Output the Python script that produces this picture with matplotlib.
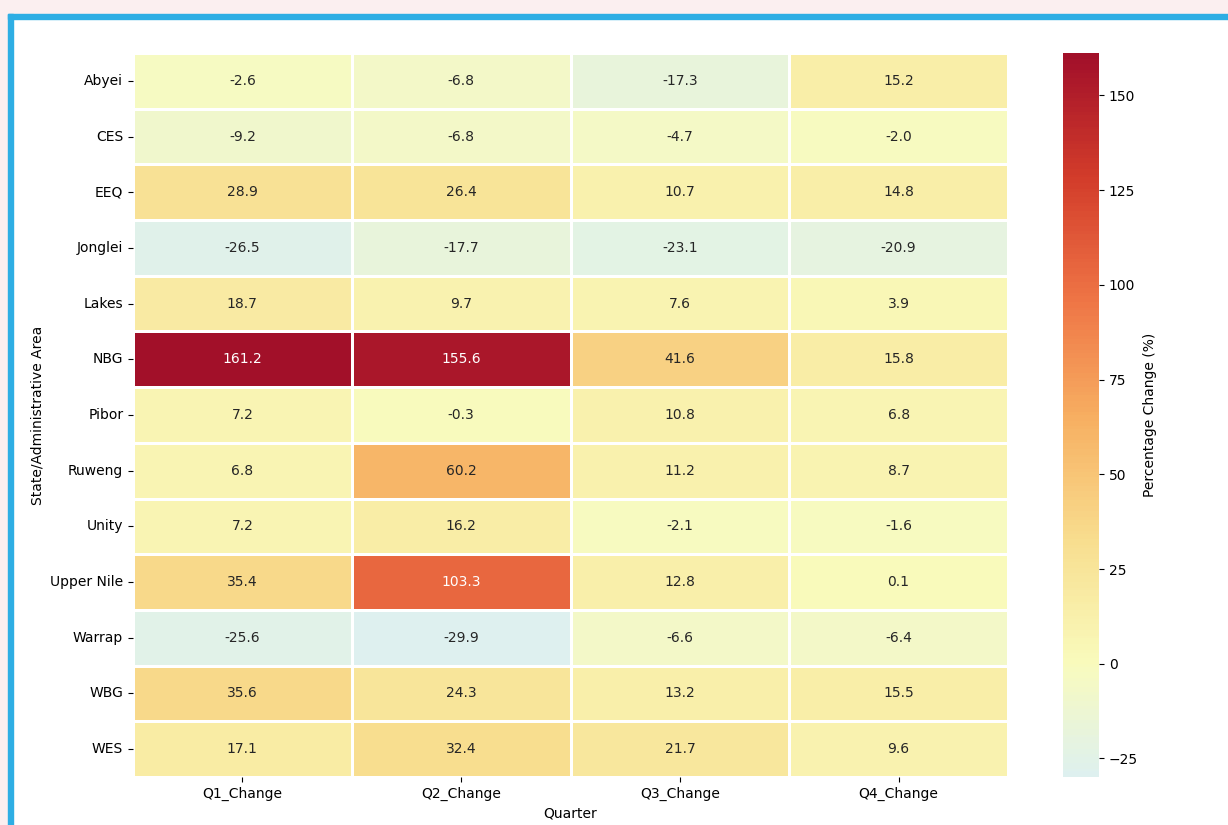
import numpy as np
import pandas as pd
import seaborn as sns
import matplotlib
matplotlib.use("Agg")
from matplotlib import pyplot as plt
from matplotlib.patches import Rectangle
from matplotlib.colors import ListedColormap

areas = ["Abyei", "CES", "EEQ", "Jonglei", "Lakes", "NBG", "Pibor", "Ruweng",
         "Unity", "Upper Nile", "Warrap", "WBG", "WES"]
quarters = ["Q1_Change", "Q2_Change", "Q3_Change", "Q4_Change"]
q1 = [-2.6, -9.2, 28.9, -26.5, 18.7, 161.2, 7.2, 6.8, 7.2, 35.4, -25.6, 35.6, 17.1]
q2 = [-6.8, -6.8, 26.4, -17.7, 9.7, 155.6, -0.3, 60.2, 16.2, 103.3, -29.9, 24.3, 32.4]
q3 = [-17.3, -4.7, 10.7, -23.1, 7.6, 41.6, 10.8, 11.2, -2.1, 12.8, -6.6, 13.2, 21.7]
q4 = [15.2, -2.0, 14.8, -20.9, 3.9, 15.8, 6.8, 8.7, -1.6, 0.1, -6.4, 15.5, 9.6]

df = pd.DataFrame({"Q1_Change": q1, "Q2_Change": q2,
                   "Q3_Change": q3, "Q4_Change": q4}, index=areas)

# RdYlBu_r, a little muted like the screenshot
base = plt.get_cmap("RdYlBu_r")(np.linspace(0, 1, 256))
muted = base.copy()
muted[:, 0] = base[:, 0] * 0.965 + 3 / 255
muted[:, 1] = base[:, 1] * 0.92 + 16 / 255
muted[:, 2] = base[:, 2] * 0.96 + 5 / 255
muted = np.clip(muted, 0, 1)
cmap = ListedColormap(muted)

W, H = 1228, 825
fig = plt.figure(figsize=(W / 100, H / 100), dpi=100)

# screenshot frame: pink strip on top, blue border
fig.patches.append(Rectangle((0, 1 - 14 / H), 1, 14 / H, transform=fig.transFigure,
                             color="#fbeff0", zorder=-2))
fig.patches.append(Rectangle((0, 0), 8 / W, 1 - 14 / H, transform=fig.transFigure,
                             color="#fbeff0", zorder=-2))
fig.patches.append(Rectangle((8 / W, 1 - 19 / H), 1, 5 / H, transform=fig.transFigure,
                             color="#2eaee4", zorder=-1))
fig.patches.append(Rectangle((8 / W, 0), 5 / W, 1 - 14 / H, transform=fig.transFigure,
                             color="#2eaee4", zorder=-1))

ax = fig.add_axes([133 / W, 1 - 777 / H, 875 / W, 724 / H])
cax = fig.add_axes([1063 / W, 1 - 777 / H, 36 / W, 724 / H])

sns.heatmap(df, ax=ax, cbar_ax=cax, cmap=cmap, center=0, annot=True, fmt=".1f",
            linewidths=0.8, linecolor="white", annot_kws={"fontsize": 10},
            cbar_kws={"label": "Percentage Change (%)"})
ax.set_xlabel("Quarter")
ax.set_ylabel("State/Administrative Area")
ax.tick_params(axis="y", rotation=0)

fig.savefig("out.png", dpi=100)
